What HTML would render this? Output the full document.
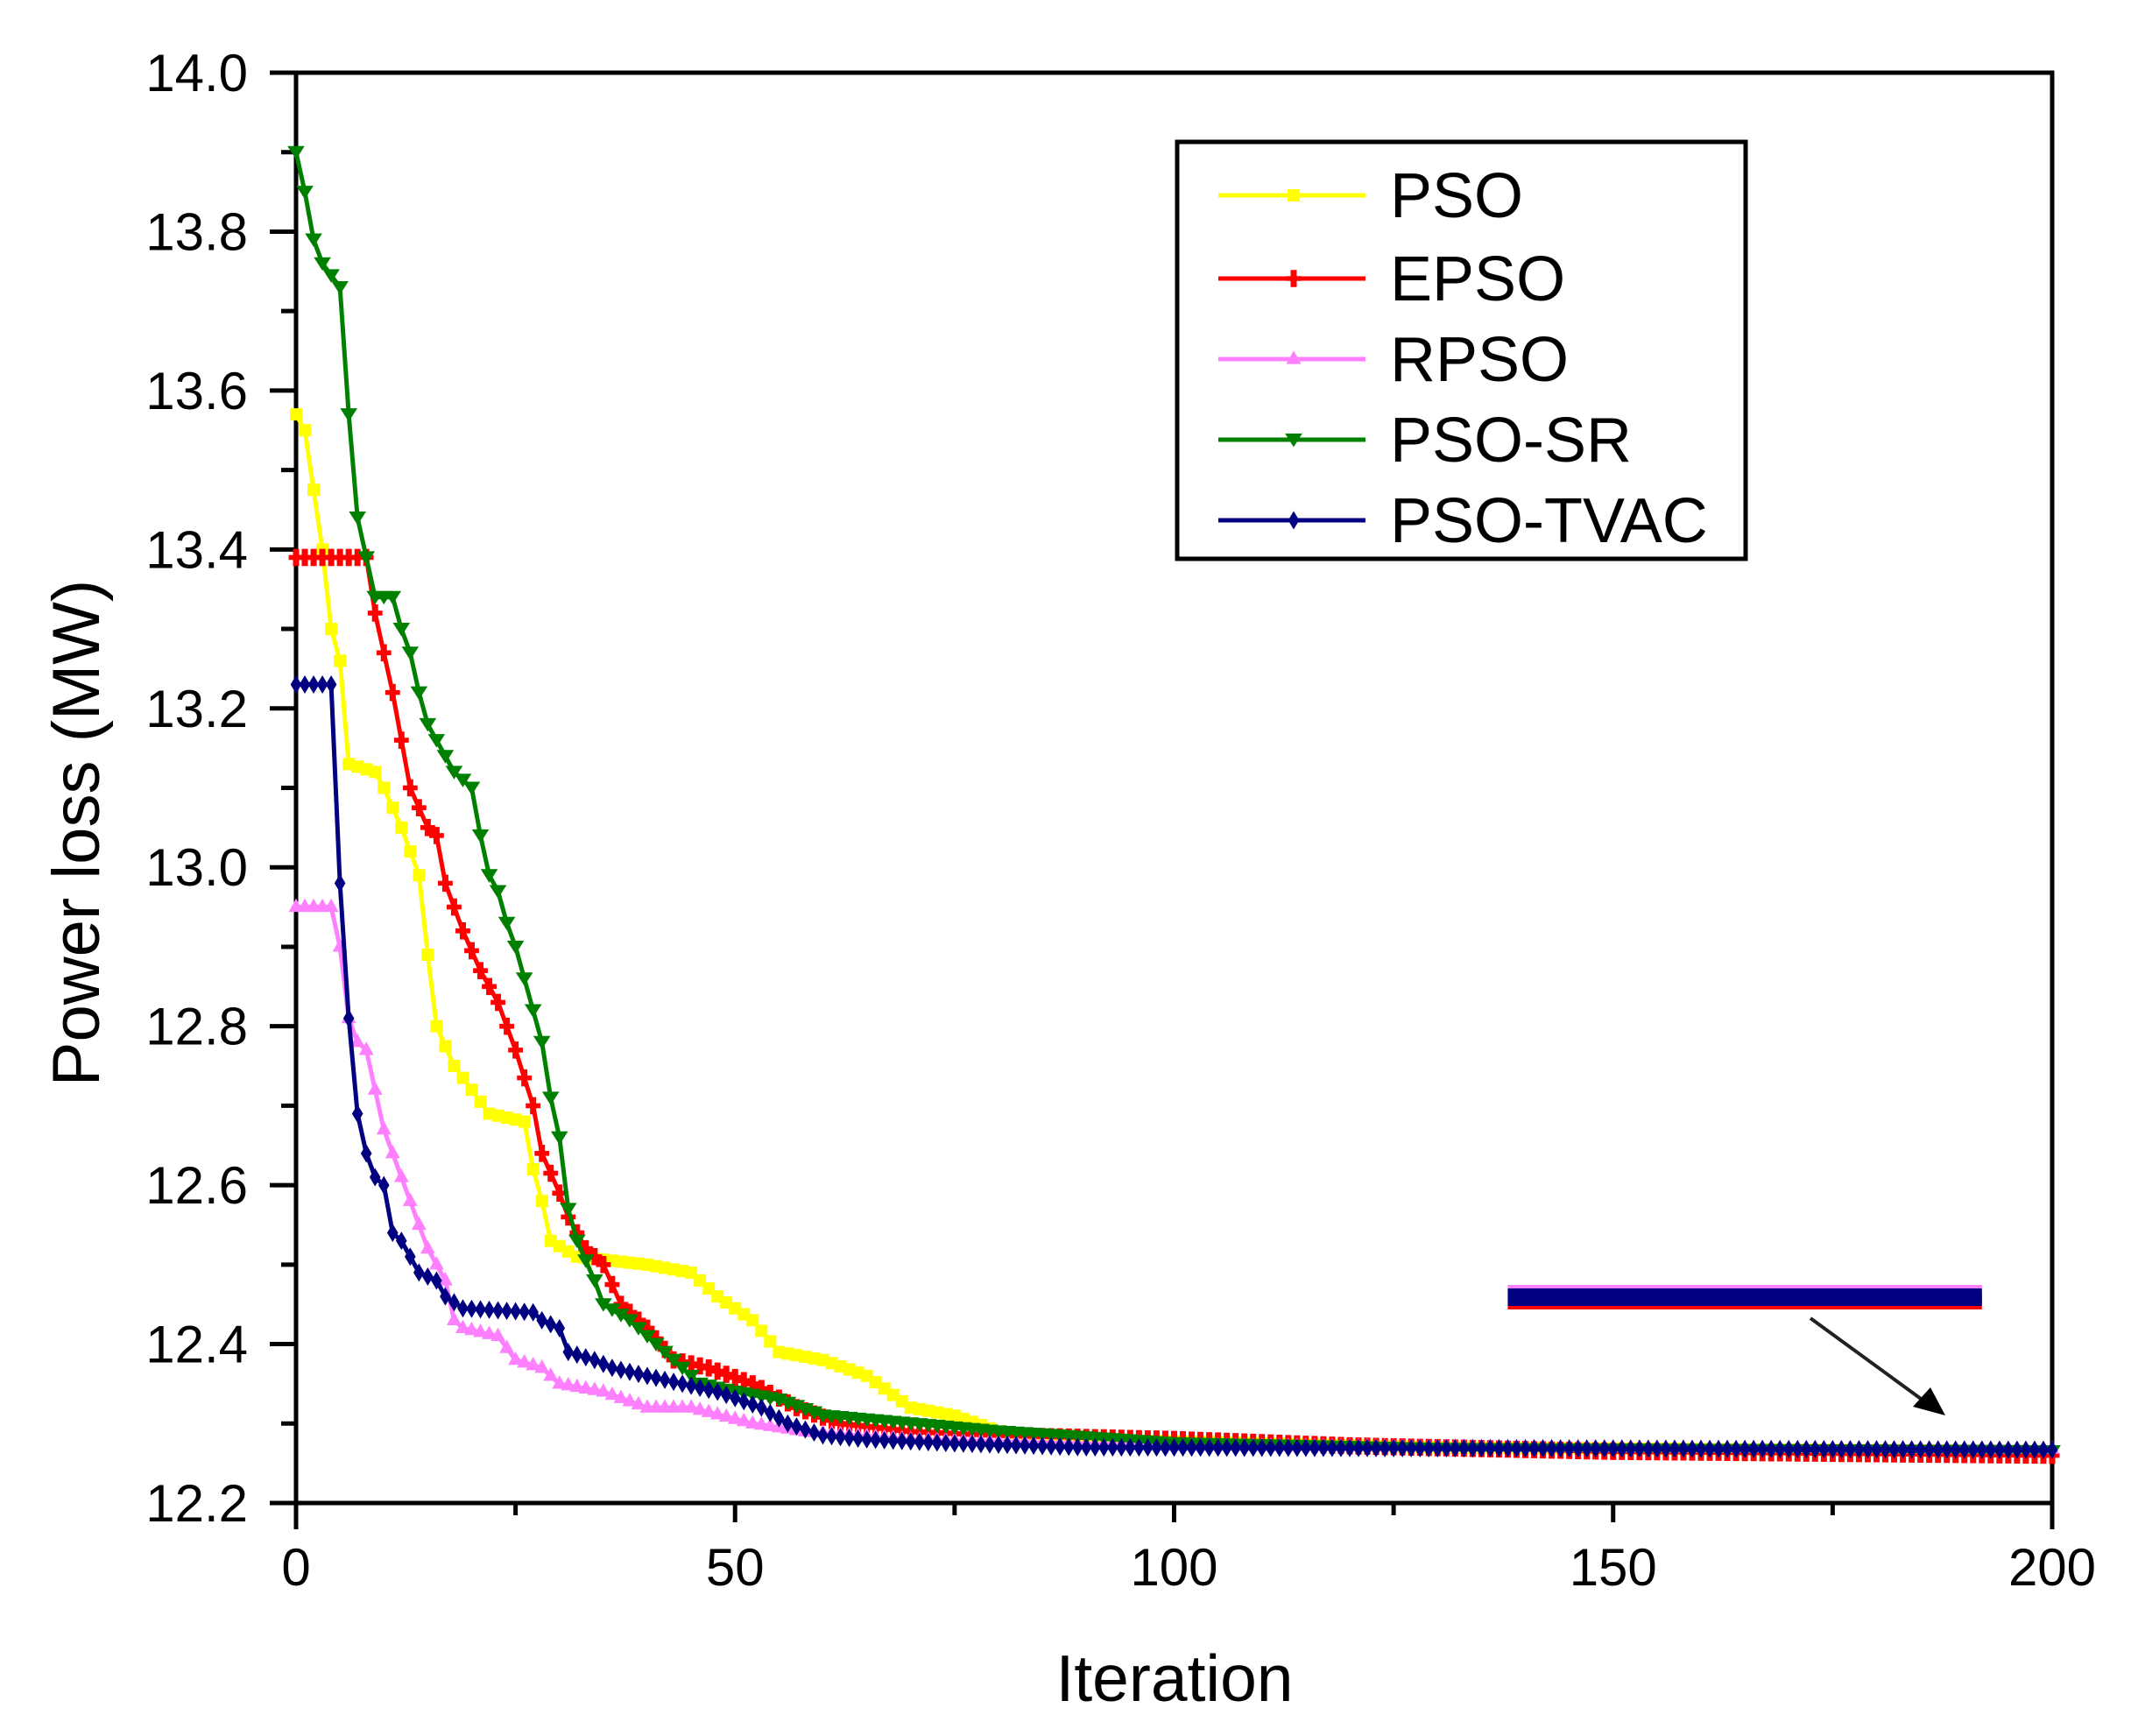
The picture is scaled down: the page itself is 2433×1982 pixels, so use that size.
<!DOCTYPE html>
<html><head><meta charset="utf-8"><style>
html,body{margin:0;padding:0;background:#fff;}
svg{display:block;font-family:"Liberation Sans",Arial,sans-serif;}
</style></head><body>
<svg id="chart" width="2433" height="1982" viewBox="0 0 2433 1982" xmlns="http://www.w3.org/2000/svg">
<rect width="2433" height="1982" fill="#fff"/>
<g id="axes"></g>
<g id="series"></g>
<g id="inset"></g>
<g id="legend"></g>
<text x="1341" y="1942" font-size="75" text-anchor="middle">Iteration</text>
<text x="0" y="0" font-size="76" text-anchor="middle" transform="translate(113,951) rotate(-90)">Power loss (MW)</text>
</svg>
<script>
// ---- data ----
const seriesNames = ["PSO","EPSO","RPSO","PSO-SR","PSO-TVAC"];
const seriesColors = ["#ffff00","#ff0000","#ff80ff","#008000","#000080"];
const psoX = [0,1,3,4,5,6,9,10,12,14,15,16,18,20,22,26,27,28,29,32,40,45,48,52,55,60,65,70,75,80,90,110,130,200];
const psoY = [13.57,13.55,13.40,13.30,13.26,13.13,13.12,13.10,13.05,12.99,12.89,12.80,12.75,12.72,12.69,12.68,12.62,12.58,12.53,12.51,12.50,12.49,12.46,12.43,12.39,12.38,12.36,12.32,12.31,12.29,12.28,12.275,12.27,12.265];
const epsoX = [0,8,9,11,13,15,16,17,19,21,23,25,27,28,30,31,33,35,37,40,43,47,52,57,62,70,80,100,120,150,200];
const epsoY = [13.39,13.39,13.32,13.22,13.10,13.05,13.04,12.98,12.92,12.87,12.83,12.77,12.70,12.64,12.59,12.56,12.52,12.50,12.45,12.42,12.38,12.37,12.35,12.32,12.30,12.29,12.285,12.28,12.272,12.265,12.26];
const rpsoX = [0,4,5,6,7,8,9,10,12,13,14,15,17,18,19,23,25,28,30,35,40,45,52,58,70,100,200];
const rpsoY = [12.95,12.95,12.90,12.81,12.78,12.77,12.72,12.67,12.61,12.58,12.55,12.52,12.48,12.43,12.42,12.41,12.38,12.37,12.35,12.34,12.32,12.32,12.30,12.29,12.28,12.272,12.268];
const srX = [0,1,2,3,5,6,7,8,9,11,12,13,14,15,16,17,18,20,21,22,23,24,25,26,27,28,29,30,31,32,34,35,38,40,43,46,50,55,60,70,80,100,130,200];
const srY = [13.90,13.85,13.79,13.76,13.73,13.57,13.44,13.39,13.34,13.34,13.30,13.27,13.22,13.18,13.16,13.14,13.12,13.10,13.04,12.99,12.97,12.93,12.90,12.86,12.82,12.78,12.71,12.66,12.57,12.53,12.48,12.45,12.43,12.41,12.38,12.35,12.34,12.33,12.31,12.30,12.29,12.275,12.268,12.265];
const tvacX = [0,4,5,6,7,8,9,10,11,12,13,14,16,17,19,27,28,30,31,34,36,40,44,48,53,56,60,65,75,90,200];
const tvacY = [13.23,13.23,12.98,12.81,12.69,12.64,12.61,12.60,12.54,12.53,12.51,12.49,12.48,12.46,12.445,12.44,12.43,12.42,12.39,12.38,12.37,12.36,12.35,12.34,12.32,12.30,12.285,12.28,12.275,12.27,12.267];
const yTicks = ["12.2","12.4","12.6","12.8","13.0","13.2","13.4","13.6","13.8","14.0"];
const xTicks = ["0","50","100","150","200"];
// inset (magnified view): start/end iteration of band
const insetRange = [138, 192];
const insetValues = [12.458, 12.4535, 12.4625, 12.458, 12.458];

// ---- scales ----
const L=338,R=2343,T=83,B=1716;
const yMin=12.2,yMax=14.0,xMin=0,xMax=200;
function sx(v){return L+(v-xMin)/(xMax-xMin)*(R-L);}
function sy(v){return T+(yMax-v)/(yMax-yMin)*(B-T);}
const NS="http://www.w3.org/2000/svg";
function mk(tag,attrs,parent){const e=document.createElementNS(NS,tag);for(const k in attrs)e.setAttribute(k,attrs[k]);parent.appendChild(e);return e;}

// ---- axes ----
const ax=document.getElementById('axes');
const frame=mk('rect',{x:L,y:T,width:R-L,height:B-T,fill:'none',stroke:'#000','stroke-width':5},ax);


const ext=mk('line',{x1:L,y1:B,x2:L,y2:B+30,stroke:'#000','stroke-width':5},ax);


const ext2=mk('line',{x1:R,y1:B,x2:R,y2:B+30,stroke:'#000','stroke-width':5},ax);


yTicks.forEach((t,i)=>{
  const v=parseFloat(t),y=sy(v);
  const tk=mk('line',{x1:L-30,y1:y,x2:L,y2:y,stroke:'#000','stroke-width':5},ax);
  
  
  const lb=mk('text',{x:283,y:y+21,'font-size':60,'text-anchor':'end'},ax);
  lb.textContent=t;
  
  
  if(i<yTicks.length-1){
    const ym=sy(v+0.1);
    const mt=mk('line',{x1:L-17,y1:ym,x2:L,y2:ym,stroke:'#000','stroke-width':5},ax);
    
    
  }
});
xTicks.forEach((t,i)=>{
  const v=parseFloat(t),x=sx(v);
  const tk=mk('line',{x1:x,y1:B,x2:x,y2:B+22,stroke:'#000','stroke-width':5},ax);
  
  
  const lb=mk('text',{x:x,y:1810,'font-size':60,'text-anchor':'middle'},ax);
  lb.textContent=t;
  
  
  if(i<xTicks.length-1){
    const xm=sx(v+25);
    const mt=mk('line',{x1:xm,y1:B,x2:xm,y2:B+14,stroke:'#000','stroke-width':5},ax);
    
    
  }
});

// ---- markers ----
function marker(shape,cx,cy,s,color,parent){
  let e;
  if(shape==='square') e=mk('rect',{x:cx-s/2,y:cy-s/2,width:s,height:s,fill:color},parent);
  else if(shape==='up') e=mk('polygon',{points:`${cx},${cy-s*0.7} ${cx+s*0.6},${cy+s*0.4} ${cx-s*0.6},${cy+s*0.4}`,fill:color},parent);
  else if(shape==='down') e=mk('polygon',{points:`${cx-s*0.7},${cy-s*0.5} ${cx+s*0.7},${cy-s*0.5} ${cx},${cy+s*0.6}`,fill:color},parent);
  else if(shape==='cross') e=mk('polygon',{points:`${cx-s*0.25},${cy-s*0.7} ${cx+s*0.25},${cy-s*0.7} ${cx+s*0.25},${cy-s*0.2} ${cx+s*0.6},${cy-s*0.2} ${cx+s*0.6},${cy+s*0.2} ${cx+s*0.25},${cy+s*0.2} ${cx+s*0.25},${cy+s*0.7} ${cx-s*0.25},${cy+s*0.7} ${cx-s*0.25},${cy+s*0.2} ${cx-s*0.6},${cy+s*0.2} ${cx-s*0.6},${cy-s*0.2} ${cx-s*0.25},${cy-s*0.2}`,fill:color},parent);
  else e=mk('polygon',{points:`${cx},${cy-s*0.75} ${cx+s*0.45},${cy} ${cx},${cy+s*0.75} ${cx-s*0.45},${cy}`,fill:color},parent);
  return e;
}
const shapes=['square','cross','up','down','diamond'];

// ---- series ----
const sg=document.getElementById('series');
const allX=[psoX,epsoX,rpsoX,srX,tvacX], allY=[psoY,epsoY,rpsoY,srY,tvacY];
function interp(xs,ys,v){for(let i=1;i<xs.length;i++){if(v<=xs[i]){const t=(v-xs[i-1])/(xs[i]-xs[i-1]);return ys[i-1]+t*(ys[i]-ys[i-1]);}}return ys[ys.length-1];}
allX.forEach((xs,si)=>{
  const ys=allY[si],col=seriesColors[si];
  const g=mk('g',{},sg);
  
  
  const pts=xs.map((x,i)=>sx(x)+','+sy(ys[i])).join(' ');
  const pl=mk('polyline',{points:pts,fill:'none',stroke:col,'stroke-width':5,'stroke-linejoin':'round'},g);
  
  
  for(let it=0;it<=200;it++){
    const m=marker(shapes[si],sx(it),sy(interp(xs,ys,it)),14,col,g);
    
    
  }
});

// ---- inset ----
const ig=document.getElementById('inset');
const insetOrder=[0,1,2,3,4];
insetOrder.forEach(si=>{
  const v=insetValues[si];
  const y=1481+(12.458-v)*2000;
  const h=si===4?20:10;
  const b=mk('rect',{x:sx(insetRange[0]),y:y-h/2,width:sx(insetRange[1])-sx(insetRange[0]),height:h,fill:seriesColors[si]},ig);
  
  
});
const ar=mk('line',{x1:2067,y1:1505,x2:2200,y2:1602,stroke:'#222','stroke-width':4},ig);


const ah=mk('polygon',{points:'2221,1616 2184,1606 2204,1584',fill:'#000'},ig);



// ---- legend ----
const lg=document.getElementById('legend');
const lb=mk('rect',{x:1344,y:162,width:649,height:476,fill:'#fff',stroke:'#000','stroke-width':5},lg);


const rowY=[223,318,410,502,594];
seriesNames.forEach((n,i)=>{
  const g=mk('g',{},lg);
  
  
  mk('line',{x1:1391,y1:rowY[i],x2:1559,y2:rowY[i],stroke:seriesColors[i],'stroke-width':5},g);
  marker(shapes[i],1477,rowY[i],14,seriesColors[i],g);
  const t=mk('text',{x:1587,y:rowY[i]+25,'font-size':72},g);
  t.textContent=n;
});
</script>
</body></html>
